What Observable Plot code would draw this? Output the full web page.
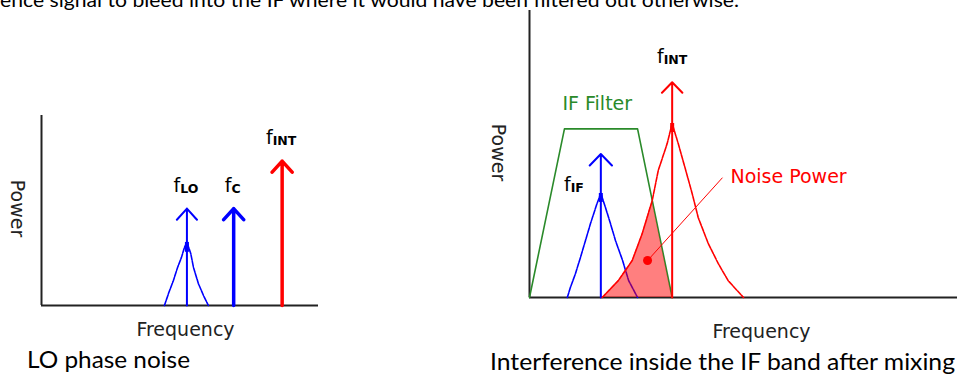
<!DOCTYPE html>
<html><head><meta charset="utf-8">
<script src="https://cdn.jsdelivr.net/npm/d3@7"></script>
<script src="https://cdn.jsdelivr.net/npm/@observablehq/plot@0.6"></script>
<style>
html,body{margin:0;padding:0;background:#fff;}
#wrap{position:relative;width:957px;height:374px;overflow:hidden;background:#fff;}
#wrap > svg{position:absolute;top:0;}
</style></head><body><div id="wrap"></div>
<script>
// ---------------- data ----------------
// Left panel: LO phase noise
const leftSignalNames = ["LO", "C", "INT"];
const leftSignalFreq = [42, 55.5, 69.5];
const leftSignalPower = [25.5, 25.5, 38];
const loNoiseFreq = [35.5, 36.7, 38.1, 39.3, 40.4, 41.3, 42.0, 43.1, 43.9, 45.3, 46.8, 48.2];
const loNoisePower = [0, 3.2, 6.6, 10.0, 12.6, 15.3, 16.6, 13.7, 10.0, 5.8, 2.6, 0];

// Right panel: interference inside the IF band
const rightSignalNames = ["IF", "INT"];
const rightSignalFreq = [20, 40];
const rightSignalPower = [40, 60];
const ifNoiseFreq = [10.6, 11.5, 12.9, 14.3, 15.7, 17.1, 18.9, 20, 21.3, 22.7, 24.1, 26.1, 27.8, 30.3];
const ifNoisePower = [0, 2.9, 6.7, 11.2, 15.9, 20.6, 26.1, 29, 25.1, 20.6, 15.9, 10.3, 4.7, 0];
const intNoiseFreq = [20.4, 24.9, 28.8, 31.6, 34.4, 36.1, 38.6, 40, 41.7, 43.6, 45.6, 47.3, 50.1, 52.9, 55.7, 60];
const intNoisePower = [0, 4.7, 10.3, 17.8, 27.0, 35.4, 42.9, 48.5, 42.9, 36.2, 29.0, 22.3, 15.1, 9.5, 4.7, 0];
const filterFreq = [0, 9.8, 30.3, 40];
const filterGain = [0, 47, 47, 0];
const noiseAreaFreq = [20.4, 24.9, 28.8, 31.6, 34.4, 40];
const noiseAreaPower = [0, 4.7, 10.3, 17.8, 27.0, 0];
const noiseMarkerFreq = [33.1];
const noiseMarkerPower = [10.3];
const noiseLeaderFreq = [54.1];
const noiseLeaderPower = [33.4];

// Texts
const axisLabels = ["Frequency", "Power"];
const annotationLabels = ["IF Filter", "Noise Power"];
const captions = ["LO phase noise", "Interference inside the IF band after mixing"];
const leadText = "ence signal to bleed into the IF where it would have been filtered out otherwise.";

// ---------------- helpers ----------------
const pts = (xs, ys) => xs.map((x, i) => ({x, y: ys[i]}));
const sig = (names, f, p) => names.map((name, i) => ({name, freq: f[i], power: p[i], label: "f|" + name}));
const peakOf = (xs, ys) => { const i = d3.maxIndex(ys); return {x: xs[i], y: ys[i]}; };

const AX = "#222", BLUE = "#0000ff", RED = "#ff0000", GREEN = "#2a8a2a";
const FONT = "DejaVu Sans";
const DASH = "5,1.2";
const wrap = document.getElementById("wrap");

function subLabels(svg) {
  d3.select(svg).selectAll("text").each(function () {
    const t = this.textContent;
    if (!t.includes("|")) return;
    const [main, sub] = t.split("|");
    this.textContent = main;
    d3.select(this).append("tspan")
      .attr("font-size", 12.5).attr("font-weight", "bold").attr("dy", 1).text(sub);
  });
}

// ---------------- left panel ----------------
const leftSignals = sig(leftSignalNames, leftSignalFreq, leftSignalPower);
const loCurve = pts(loNoiseFreq, loNoisePower);
const loPeak = peakOf(loNoiseFreq, loNoisePower);

const left = Plot.plot({
  width: 480, height: 374,
  x: {domain: [0, 80], range: [41, 318], axis: null},
  y: {domain: [0, 50], range: [305, 115], axis: null},
  style: {background: "transparent", overflow: "visible", fontFamily: FONT},
  marks: [
    Plot.ruleX([0], {y1: 0, y2: 50, stroke: AX, strokeWidth: 2}),
    Plot.ruleY([0], {x1: 0, x2: 80, stroke: AX, strokeWidth: 2}),
    Plot.line(loCurve, {x: "x", y: "y", stroke: BLUE, strokeWidth: 1.6, strokeDasharray: DASH}),
    Plot.ruleX([loPeak], {x: "x", y1: "y", y2: d => d.y - 2.6, stroke: BLUE, strokeWidth: 4}),
    Plot.arrow(leftSignals.filter(d => d.name === "LO"), {x1: "freq", x2: "freq", y1: 0, y2: "power", stroke: BLUE, strokeWidth: 2, headLength: 11.25, headAngle: 84}),
    Plot.arrow(leftSignals.filter(d => d.name === "C"), {x1: "freq", x2: "freq", y1: 0, y2: "power", stroke: BLUE, strokeWidth: 3.5, headLength: 6.4, headAngle: 84}),
    Plot.arrow(leftSignals.filter(d => d.name === "INT"), {x1: "freq", x2: "freq", y1: 0, y2: "power", stroke: RED, strokeWidth: 3.5, headLength: 6.4, headAngle: 84}),
    Plot.text(leftSignals, {x: "freq", y: "power", text: "label", dy: -23, dx: -1, fontSize: 19, fill: "#000", textAnchor: "middle", lineAnchor: "middle"}),
    Plot.text([axisLabels[0]], {x: 40, y: 0, text: d => d, dx: 5.5, dy: 24, fontSize: 19, fill: AX, textAnchor: "middle", lineAnchor: "middle"}),
    Plot.text([axisLabels[1]], {x: 0, y: 25, text: d => d, dx: -24.5, dy: -2, rotate: 90, fontSize: 19, fill: AX, textAnchor: "middle", lineAnchor: "middle"})
  ]
});
left.style.left = "0px";
subLabels(left);
wrap.appendChild(left);

// ---------------- right panel ----------------
const rightSignals = sig(rightSignalNames, rightSignalFreq, rightSignalPower);
const ifCurve = pts(ifNoiseFreq, ifNoisePower);
const intCurve = pts(intNoiseFreq, intNoisePower);
const ifPeak = peakOf(ifNoiseFreq, ifNoisePower);
const intPeak = peakOf(intNoiseFreq, intNoisePower);
const filterCurve = pts(filterFreq, filterGain);
const noiseArea = pts(noiseAreaFreq, noiseAreaPower);
const marker = pts(noiseMarkerFreq, noiseMarkerPower);
const leader = noiseMarkerFreq.map((x, i) => ({x1: x, y1: noiseMarkerPower[i], x2: noiseLeaderFreq[i], y2: noiseLeaderPower[i]}));

const right = Plot.plot({
  width: 477, height: 374,
  x: {domain: [0, 120], range: [49, 477], axis: null},
  y: {domain: [0, 80], range: [297, 10], axis: null},
  style: {background: "transparent", overflow: "visible", fontFamily: FONT},
  marks: [
    Plot.ruleX([0], {y1: 0, y2: 80, stroke: AX, strokeWidth: 2}),
    Plot.ruleY([0], {x1: 0, x2: 120, stroke: AX, strokeWidth: 2}),
    Plot.line(filterCurve, {x: "x", y: "y", stroke: GREEN, strokeWidth: 1.6}),
    Plot.line(ifCurve, {x: "x", y: "y", stroke: BLUE, strokeWidth: 1.6, strokeDasharray: DASH}),
    Plot.ruleX([ifPeak], {x: "x", y1: "y", y2: d => d.y - 2.5, stroke: BLUE, strokeWidth: 4}),
    Plot.arrow(rightSignals.filter(d => d.name === "IF"), {x1: "freq", x2: "freq", y1: 0, y2: "power", stroke: BLUE, strokeWidth: 2, headLength: 12, headAngle: 88}),
    Plot.line(intCurve, {x: "x", y: "y", stroke: RED, strokeWidth: 1.6, strokeDasharray: DASH}),
    Plot.ruleX([intPeak], {x: "x", y1: "y", y2: d => d.y - 2.5, stroke: RED, strokeWidth: 4}),
    Plot.arrow(rightSignals.filter(d => d.name === "INT"), {x1: "freq", x2: "freq", y1: 0, y2: "power", stroke: RED, strokeWidth: 2, headLength: 11, headAngle: 88}),
    Plot.areaY(noiseArea, {x: "x", y: "y", fill: RED, fillOpacity: 0.5}),
    Plot.link(leader, {x1: "x1", y1: "y1", x2: "x2", y2: "y2", stroke: RED, strokeWidth: 1}),
    Plot.dot(marker, {x: "x", y: "y", r: 4.5, fill: RED}),
    Plot.text(rightSignals.filter(d => d.name === "INT"), {x: "freq", y: "power", text: "label", dy: -25, fontSize: 19, fill: "#000", textAnchor: "middle", lineAnchor: "middle"}),
    Plot.text(rightSignals.filter(d => d.name === "IF"), {x: "freq", y: "power", text: "label", dx: -17, dy: 30.6, fontSize: 19, fill: "#000", textAnchor: "end", lineAnchor: "middle"}),
    Plot.text([annotationLabels[0]], {x: filterFreq[1], y: filterGain[1], text: d => d, dx: -2, dy: -25, fontSize: 19, fill: GREEN, textAnchor: "start", lineAnchor: "middle"}),
    Plot.text([annotationLabels[1]], {x: noiseLeaderFreq[0], y: noiseLeaderPower[0], text: d => d, dx: 8, dy: -1, fontSize: 19, fill: RED, textAnchor: "start", lineAnchor: "middle"}),
    Plot.text([axisLabels[0]], {x: 60, y: 0, text: d => d, dx: 18, dy: 34, fontSize: 19, fill: AX, textAnchor: "middle", lineAnchor: "middle"}),
    Plot.text([axisLabels[1]], {x: 0, y: 40, text: d => d, dx: -31.5, dy: -1.5, rotate: 90, fontSize: 19, fill: AX, textAnchor: "middle", lineAnchor: "middle"})
  ]
});
right.style.left = "480px";
subLabels(right);
wrap.appendChild(right);

// ---------------- surrounding document text ----------------
const overlay = d3.create("svg").attr("width", 957).attr("height", 374)
  .style("left", "0px").style("pointer-events", "none")
  .attr("font-family", "Lato, 'Open Sans', sans-serif").attr("fill", "#000");
overlay.append("text").attr("x", 0).attr("y", 7).attr("font-size", 19)
  .attr("textLength", 739).attr("lengthAdjust", "spacingAndGlyphs").text(leadText);
overlay.append("text").attr("x", 27).attr("y", 368).attr("font-size", 23)
  .attr("textLength", 163).attr("lengthAdjust", "spacingAndGlyphs").text(captions[0]);
overlay.append("text").attr("x", 490).attr("y", 370).attr("font-size", 23)
  .attr("textLength", 465).attr("lengthAdjust", "spacingAndGlyphs").text(captions[1]);
wrap.appendChild(overlay.node());
</script>
</body></html>
